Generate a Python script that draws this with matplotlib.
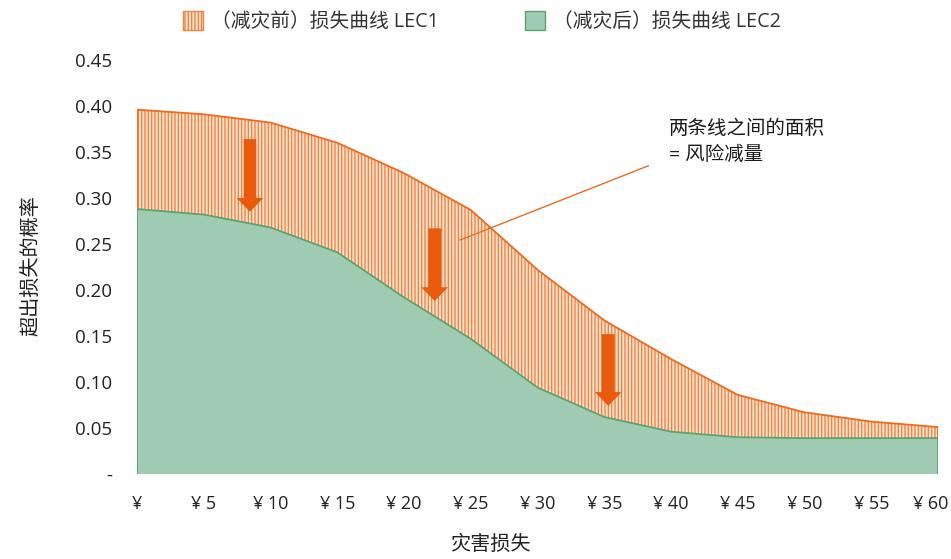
import matplotlib
matplotlib.use("Agg")
import matplotlib.pyplot as plt
import matplotlib.transforms as mtransforms
from matplotlib.patches import Patch, FancyArrow

plt.rcParams['font.family'] = ['Open Sans', 'Noto Sans CJK SC', 'DejaVu Sans']
plt.rcParams['hatch.linewidth'] = 1.0

# Loss amount (¥) and exceedance probabilities
loss = [0, 5, 10, 15, 20, 25, 30, 35, 40, 45, 50, 55, 60]
lec1 = [0.396, 0.391, 0.382, 0.360, 0.327, 0.287, 0.222, 0.167, 0.125, 0.086, 0.067, 0.057, 0.051]
lec2 = [0.288, 0.282, 0.268, 0.241, 0.192, 0.147, 0.094, 0.062, 0.046, 0.040, 0.039, 0.039, 0.039]

x_ticks = [0, 5, 10, 15, 20, 25, 30, 35, 40, 45, 50, 55, 60]
x_labels = ["¥"] + [f"¥ {v}" for v in x_ticks[1:]]
y_ticks = [0, 0.05, 0.10, 0.15, 0.20, 0.25, 0.30, 0.35, 0.40, 0.45]
y_labels = ["-"] + [f"{v:.2f}" for v in y_ticks[1:]]

label1 = "（减灾前）损失曲线 LEC1"
label2 = "（减灾后）损失曲线 LEC2"
note = "两条线之间的面积\n= 风险减量"

orange = "#EE6A1F"
hatch_col = "#F2843F"
peach = "#FDE3D2"
green_fill = "#9ECBB2"
green_edge = "#5BA36F"
arrow_col = "#E85A0C"
text_col = "#222222"

fig = plt.figure(figsize=(9.51, 5.59), dpi=100)
ax = fig.add_axes([137 / 951, 1 - 474 / 559, (938 - 137) / 951, (474 - 60) / 559])

# Area between curves: hatched orange
ax.fill_between(loss, lec2, lec1, facecolor=peach, edgecolor=hatch_col,
                hatch="|||||", linewidth=0)
ax.plot(loss, lec1, color=orange, linewidth=1.3)
ax.plot([loss[-1], loss[-1]], [lec2[-1], lec1[-1]], color=orange, linewidth=1.3)
ax.plot([loss[0], loss[0]], [lec2[0], lec1[0]], color=orange, linewidth=1.3)

# Area under reduced curve
ax.fill_between(loss, 0, lec2, facecolor=green_fill, edgecolor="none")
ax.plot(loss, lec2, color=green_edge, linewidth=1.3)
ax.plot([loss[0], loss[0]], [0, lec2[0]], color=green_edge, linewidth=1.3)
ax.plot([loss[-1], loss[-1]], [0, lec2[-1]], color=green_edge, linewidth=1.3)

# Downward arrows indicating the reduction
for ax_x, y_top, y_tip in [(8.46, 0.364, 0.285), (22.3, 0.267, 0.188), (35.3, 0.152, 0.074)]:
    hl = 0.015
    ax.add_patch(FancyArrow(ax_x, y_top, 0, -(y_top - y_tip - hl), width=0.95,
                            head_width=2.0, head_length=hl,
                            length_includes_head=False, color=arrow_col, lw=0))

# Callout line and note
ax.plot([24.2, 38.3], [0.2543, 0.335], color=orange, linewidth=1.0)
fig.text(669 / 951, 1 - 142 / 559, note, fontsize=14, color="#1a1a1a",
         va="center", ha="left", linespacing=1.55)

ax.set_xlim(0, 60)
ax.set_ylim(0, 0.45)
ax.set_xticks(x_ticks)
ax.set_xticklabels(x_labels, fontsize=13, color=text_col)
ax.set_yticks(y_ticks)
ax.set_yticklabels(y_labels, fontsize=13.5, color=text_col)
ax.tick_params(axis="both", length=0)
ax.tick_params(axis="x", pad=15)
ax.tick_params(axis="y", pad=18)
for s in ax.spines.values():
    s.set_visible(False)

# Keep the last x label inside the figure
last = ax.get_xticklabels()[-1]
last.set_transform(last.get_transform() +
                   mtransforms.ScaledTranslation(-7 / 100, 0, fig.dpi_scale_trans))

fig.text(490 / 951, 1 - 545 / 559, "灾害损失", fontsize=14.5, color=text_col,
         ha="center", va="center")
fig.text(31 / 951, 1 - 266 / 559, "超出损失的概率", fontsize=14.5, color=text_col,
         ha="center", va="center", rotation=90)

handles = [
    Patch(facecolor=peach, edgecolor=hatch_col, hatch="|||||", label=label1),
    Patch(facecolor=green_fill, edgecolor=green_edge, label=label2),
]
fig.legend(handles=handles, loc="center", bbox_to_anchor=(482 / 951, 1 - 22 / 559),
           ncol=2, frameon=False, fontsize=14.2, handlelength=1.0, handleheight=1.1,
           handletextpad=0.4, columnspacing=4.4, labelcolor="#333333")

fig.savefig("out.png", dpi=100)
